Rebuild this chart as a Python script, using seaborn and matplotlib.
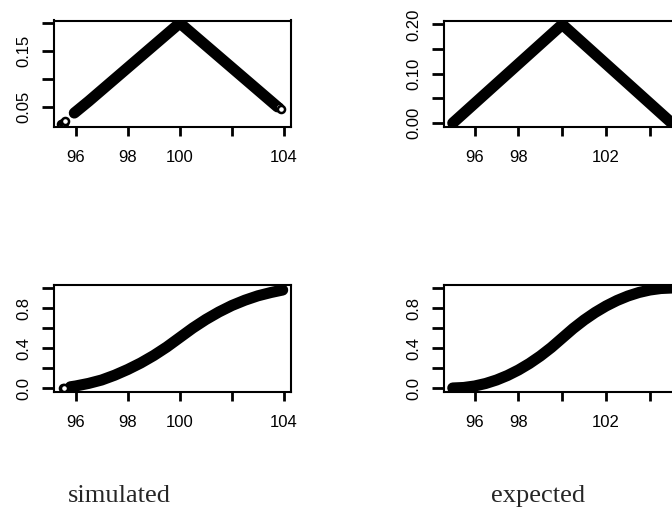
import matplotlib
matplotlib.use("Agg")
from matplotlib import pyplot as plt
import seaborn as sns

# Values
# simulated density (top left)
sim_pdf_x = [95.95, 96.5, 97.0, 97.5, 98.0, 98.5, 99.0, 99.5, 100.0,
             100.5, 101.0, 101.5, 102.0, 102.5, 103.0, 103.5, 103.75]
sim_pdf_y = [0.039, 0.06, 0.08, 0.10, 0.12, 0.14, 0.16, 0.18, 0.20,
             0.18, 0.16, 0.14, 0.12, 0.10, 0.08, 0.06, 0.05]
sim_pdf_tail_x = [95.45, 95.5, 95.55, 95.6, 103.8, 103.87]
sim_pdf_tail_y = [0.019, 0.021, 0.022, 0.024, 0.049, 0.046]

# expected density (top right)
exp_pdf_x = [95.0, 100.0, 105.0]
exp_pdf_y = [0.0, 0.2, 0.0]

# simulated cdf (bottom left)
sim_cdf_x = [95.8, 96.0, 96.5, 97.0, 97.5, 98.0, 98.5, 99.0, 99.5, 100.0,
             100.5, 101.0, 101.5, 102.0, 102.5, 103.0, 103.5, 103.95]
sim_cdf_y = [0.012, 0.02, 0.046, 0.08, 0.128, 0.185, 0.25, 0.325, 0.41, 0.505,
             0.6, 0.685, 0.76, 0.825, 0.878, 0.922, 0.955, 0.98]
sim_cdf_tail_x = [95.5, 95.55]
sim_cdf_tail_y = [0.003, 0.005]

# expected cdf (bottom right)
exp_cdf_x = [95.0, 95.5, 96.0, 96.5, 97.0, 97.5, 98.0, 98.5, 99.0, 99.5, 100.0,
             100.5, 101.0, 101.5, 102.0, 102.5, 103.0, 103.5, 104.0, 104.5, 105.0]
exp_cdf_y = [0.0, 0.005, 0.02, 0.045, 0.08, 0.125, 0.18, 0.245, 0.32, 0.405, 0.5,
             0.595, 0.68, 0.755, 0.82, 0.875, 0.92, 0.955, 0.98, 0.995, 1.0]

x_ticks = [96, 98, 100, 102, 104]
sim_x_labels = ["96", "98", "100", "", "104"]
exp_x_labels = ["96", "98", "", "102", ""]
sim_pdf_ticks = [0.05, 0.10, 0.15, 0.20]
sim_pdf_labels = ["0.05", "", "0.15", ""]
exp_pdf_ticks = [0.0, 0.05, 0.10, 0.15, 0.20]
exp_pdf_labels = ["0.00", "", "0.10", "", "0.20"]
cdf_ticks = [0.0, 0.2, 0.4, 0.6, 0.8, 1.0]
cdf_labels = ["0.0", "", "0.4", "", "0.8", ""]

sns.set_style("ticks")
plt.rc('font', family=['Liberation Sans', 'DejaVu Sans'], size=12)
plt.rc('axes', edgecolor='black', linewidth=1.5, facecolor='white')
plt.rc('xtick', color='black', direction='out')
plt.rc('ytick', color='black', direction='out')

fig = plt.figure(figsize=(6.72, 5.08), dpi=100)


def panel(rect, xs, ys, xlim, ylim, xlabels, yticks, ylabels, tail=None):
    ax = fig.add_axes(rect)
    sns.lineplot(x=xs, y=ys, ax=ax, color='black', linewidth=8, sort=False,
                 solid_capstyle='round', solid_joinstyle='round')
    if tail is not None:
        sns.scatterplot(x=tail[0], y=tail[1], ax=ax, marker='o', s=26,
                        facecolor='white', edgecolor='black', linewidth=1.8, zorder=3)
    ax.set(xlim=xlim, ylim=ylim, xlabel='', ylabel='')
    ax.set_xticks(x_ticks, xlabels)
    ax.set_yticks(yticks, ylabels)
    ax.tick_params(axis='x', length=6.5, width=2, pad=10)
    ax.tick_params(axis='y', length=8.6, width=2, pad=8)
    for lab in ax.get_yticklabels():
        lab.set_rotation(90)
        lab.set_va('center')
    for s in ax.spines.values():
        s.set_visible(True)
    return ax


left_x, right_x = 54 / 672, 444 / 672
col_w = 236.5 / 672
top_y, top_h = 381 / 508, 106.5 / 508
bot_y, bot_h = 116 / 508, 107 / 508

panel([left_x, top_y, col_w, top_h], sim_pdf_x, sim_pdf_y,
      (95.17, 104.25), (0.014, 0.2045), sim_x_labels,
      sim_pdf_ticks, sim_pdf_labels, tail=(sim_pdf_tail_x, sim_pdf_tail_y))
panel([right_x, top_y, col_w, top_h], exp_pdf_x, exp_pdf_y,
      (94.6, 105.4), (-0.008, 0.208), exp_x_labels,
      exp_pdf_ticks, exp_pdf_labels)
panel([left_x, bot_y, col_w, bot_h], sim_cdf_x, sim_cdf_y,
      (95.17, 104.25), (-0.04, 1.03), sim_x_labels,
      cdf_ticks, cdf_labels, tail=(sim_cdf_tail_x, sim_cdf_tail_y))
panel([right_x, bot_y, col_w, bot_h], exp_cdf_x, exp_cdf_y,
      (94.6, 105.4), (-0.04, 1.03), exp_x_labels,
      cdf_ticks, cdf_labels)

fig.text(119 / 672, 6 / 508, "simulated", ha='center', va='baseline',
         family='Liberation Serif', size=19)
fig.text(538 / 672, 6 / 508, "expected", ha='center', va='baseline',
         family='Liberation Serif', size=19)

fig.savefig('out.png', dpi=100)
